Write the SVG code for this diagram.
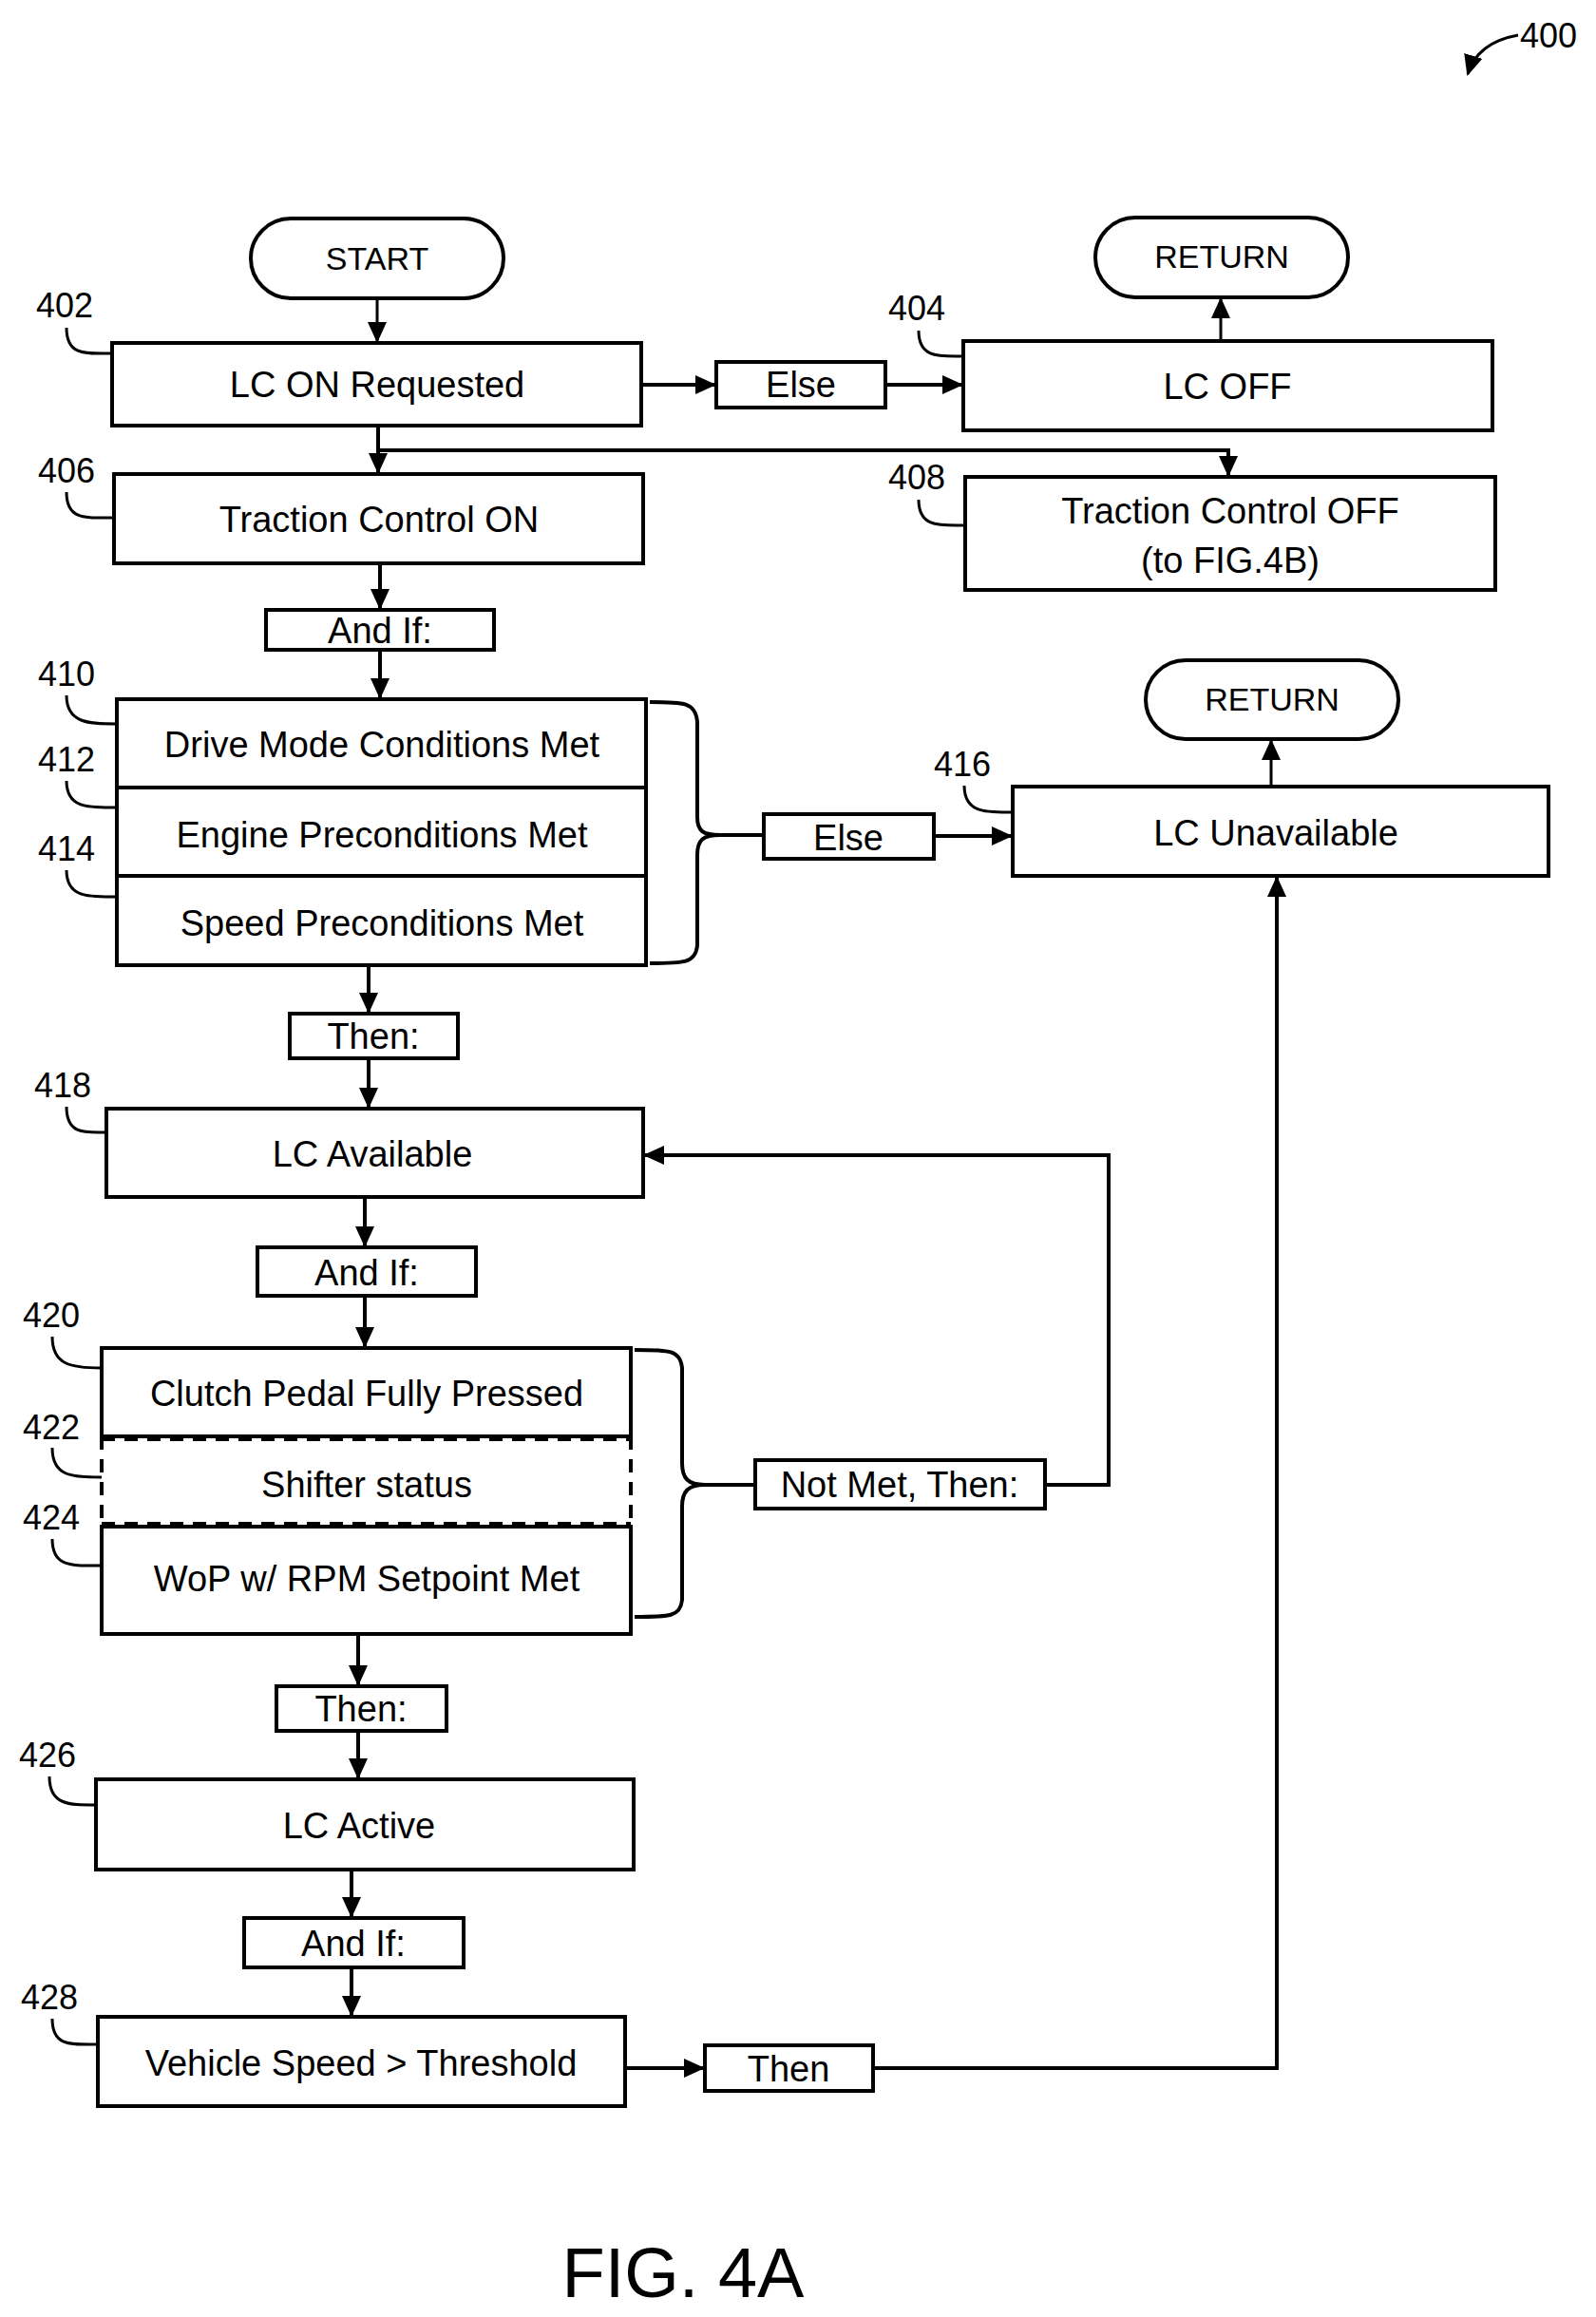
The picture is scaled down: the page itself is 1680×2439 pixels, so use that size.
<svg xmlns="http://www.w3.org/2000/svg" width="1680" height="2439" viewBox="0 0 1680 2439">
<style>
.b{fill:#fff;stroke:#000;stroke-width:4}
.t{font-family:"Liberation Sans",Arial,sans-serif;font-size:38px;text-anchor:middle;fill:#000}
.s{font-family:"Liberation Sans",Arial,sans-serif;font-size:34px;text-anchor:middle;fill:#000}
.n{font-family:"Liberation Sans",Arial,sans-serif;font-size:36px;fill:#000}
.l{fill:none;stroke:#000;stroke-width:4}
.ld{fill:none;stroke:#000;stroke-width:3}
</style>
<defs>
<marker id="a" markerWidth="10" markerHeight="10" refX="9" refY="5" orient="auto" markerUnits="userSpaceOnUse" viewBox="0 0 10 10"><path d="M0,0 L10,5 L0,10 z"/></marker>
<marker id="A" markerWidth="22" markerHeight="22" refX="20" refY="11" orient="auto" markerUnits="userSpaceOnUse" viewBox="0 0 22 22"><path d="M0,1 L22,11 L0,21 z"/></marker>
</defs>
<g id="connectors">
<path class="ld" d="M397,314 V359" marker-end="url(#A)"/>
<path class="l" d="M675,405 H752" marker-end="url(#A)"/>
<path class="l" d="M932,405 H1012" marker-end="url(#A)"/>
<path class="ld" d="M1285,359 V315" marker-end="url(#A)"/>
<path class="l" d="M398,448 V497" marker-end="url(#A)"/>
<path class="l" d="M398,474 H1293 V500" marker-end="url(#A)"/>
<path class="l" d="M400,593 V640" marker-end="url(#A)"/>
<path class="l" d="M400,684 V734" marker-end="url(#A)"/>
<path class="l" d="M684,739 C720,739 732,739 734,760 V860 C734,875 740,879 758,879 H802" />
<path class="l" d="M684,1014 C720,1014 732,1014 734,995 V900 C734,884 740,879 758,879" />
<path class="l" d="M983,880 H1064" marker-end="url(#A)"/>
<path class="ld" d="M1338,828 V780" marker-end="url(#A)"/>
<path class="l" d="M388,1016 V1065" marker-end="url(#A)"/>
<path class="l" d="M388,1114 V1165" marker-end="url(#A)"/>
<path class="l" d="M384,1260 V1311" marker-end="url(#A)"/>
<path class="l" d="M384,1364 V1417" marker-end="url(#A)"/>
<path class="l" d="M668,1421 C705,1421 716,1421 718,1440 V1540 C718,1556 724,1563 742,1563 H795" />
<path class="l" d="M668,1702 C705,1702 716,1702 718,1684 V1586 C718,1570 724,1563 742,1563" />
<path class="l" d="M1100,1563 H1167 V1216 H679" marker-end="url(#A)"/>
<path class="l" d="M377,1720 V1773" marker-end="url(#A)"/>
<path class="l" d="M377,1822 V1871" marker-end="url(#A)"/>
<path class="l" d="M370,1968 V2017" marker-end="url(#A)"/>
<path class="l" d="M370,2071 V2121" marker-end="url(#A)"/>
<path class="l" d="M658,2177 H740" marker-end="url(#A)"/>
<path class="l" d="M919,2177 H1344 V924" marker-end="url(#A)"/>
<path class="ld" d="M1598,37 C1570,42 1552,55 1545,78" marker-end="url(#A)"/>
</g>
<g id="start"><rect class="b" x="264" y="230" width="266" height="84" rx="42"/><text class="s" x="397" y="284">START</text></g>
<g id="return1"><rect class="b" x="1153" y="229" width="266" height="84" rx="42"/><text class="s" x="1286" y="282">RETURN</text></g>
<g id="return2"><rect class="b" x="1206" y="695" width="266" height="83" rx="42"/><text class="s" x="1339" y="748">RETURN</text></g>
<g id="n402"><rect class="b" x="118" y="361" width="557" height="87"/><text class="t" x="397" y="418">LC ON Requested</text></g>
<g id="else1"><rect class="b" x="754" y="381" width="178" height="48"/><text class="t" x="843" y="418">Else</text></g>
<g id="n404"><rect class="b" x="1014" y="359" width="557" height="94"/><text class="t" x="1292" y="420">LC OFF</text></g>
<g id="n406"><rect class="b" x="120" y="499" width="557" height="94"/><text class="t" x="399" y="560">Traction Control ON</text></g>
<g id="n408"><rect class="b" x="1016" y="502" width="558" height="119"/><text class="t" x="1295" y="551">Traction Control OFF</text><text class="t" x="1295" y="603">(to FIG.4B)</text></g>
<g id="andif1"><rect class="b" x="280" y="642" width="240" height="42"/><text class="t" x="400" y="677">And If:</text></g>
<g id="n410"><rect class="b" x="123" y="736" width="557" height="280"/><line class="l" x1="123" y1="829" x2="680" y2="829"/><line class="l" x1="123" y1="922" x2="680" y2="922"/>
<text class="t" x="402" y="797">Drive Mode Conditions Met</text><text class="t" x="402" y="892">Engine Preconditions Met</text><text class="t" x="402" y="985">Speed Preconditions Met</text></g>
<g id="else2"><rect class="b" x="804" y="857" width="179" height="47"/><text class="t" x="893" y="895">Else</text></g>
<g id="n416"><rect class="b" x="1066" y="828" width="564" height="94"/><text class="t" x="1343" y="890">LC Unavailable</text></g>
<g id="then1"><rect class="b" x="305" y="1067" width="177" height="47"/><text class="t" x="393" y="1104">Then:</text></g>
<g id="n418"><rect class="b" x="112" y="1167" width="565" height="93"/><text class="t" x="392" y="1228">LC Available</text></g>
<g id="andif2"><rect class="b" x="271" y="1313" width="230" height="51"/><text class="t" x="386" y="1353">And If:</text></g>
<g id="n420"><rect fill="#fff" x="107" y="1419" width="557" height="301"/>
<path class="l" d="M107,1512 V1419 H664 V1512 H107"/><path class="l" d="M107,1607 H664 V1720 H107 Z"/>
<path class="l" stroke-dasharray="14,10" d="M107,1512 V1607 M664,1512 V1607 M107,1515 H664 M107,1604 H664"/>
<text class="t" x="386" y="1480">Clutch Pedal Fully Pressed</text><text class="t" x="386" y="1576">Shifter status</text><text class="t" x="386" y="1675">WoP w/ RPM Setpoint Met</text></g>
<g id="notmet"><rect class="b" x="795" y="1537" width="305" height="51"/><text class="t" x="947" y="1576">Not Met, Then:</text></g>
<g id="then2"><rect class="b" x="291" y="1775" width="179" height="47"/><text class="t" x="380" y="1812">Then:</text></g>
<g id="n426"><rect class="b" x="101" y="1873" width="566" height="95"/><text class="t" x="378" y="1935">LC Active</text></g>
<g id="andif3"><rect class="b" x="257" y="2019" width="231" height="52"/><text class="t" x="372" y="2059">And If:</text></g>
<g id="n428"><rect class="b" x="103" y="2123" width="555" height="94"/><text class="t" x="380" y="2185">Vehicle Speed &gt; Threshold</text></g>
<g id="then3"><rect class="b" x="742" y="2153" width="177" height="48"/><text class="t" x="830" y="2191">Then</text></g>
<g id="labels">
<text class="n" x="38" y="334">402</text><path class="ld" d="M70,345 C70,375 90,372 118,372"/>
<text class="n" x="935" y="337">404</text><path class="ld" d="M967,348 C967,378 990,375 1014,375"/>
<text class="n" x="40" y="508">406</text><path class="ld" d="M70,518 C70,548 90,545 120,545"/>
<text class="n" x="935" y="515">408</text><path class="ld" d="M967,526 C967,556 990,553 1016,553"/>
<text class="n" x="40" y="722">410</text><path class="ld" d="M70,732 C70,762 95,762 123,762"/>
<text class="n" x="40" y="812">412</text><path class="ld" d="M70,822 C70,852 95,850 123,850"/>
<text class="n" x="40" y="906">414</text><path class="ld" d="M70,916 C70,946 95,944 123,944"/>
<text class="n" x="983" y="817">416</text><path class="ld" d="M1015,827 C1015,857 1040,855 1066,855"/>
<text class="n" x="36" y="1155">418</text><path class="ld" d="M70,1165 C70,1195 90,1192 112,1192"/>
<text class="n" x="24" y="1397">420</text><path class="ld" d="M55,1407 C55,1437 75,1440 107,1440"/>
<text class="n" x="24" y="1515">422</text><path class="ld" d="M55,1524 C55,1554 75,1555 107,1555"/>
<text class="n" x="24" y="1610">424</text><path class="ld" d="M55,1620 C55,1650 75,1648 107,1648"/>
<text class="n" x="20" y="1860">426</text><path class="ld" d="M52,1870 C52,1900 72,1900 101,1900"/>
<text class="n" x="22" y="2115">428</text><path class="ld" d="M55,2125 C55,2155 75,2152 103,2152"/>
<text class="n" x="1600" y="50">400</text>
<text x="719" y="2418" style="font-family:'Liberation Sans',Arial,sans-serif;font-size:74px;text-anchor:middle">FIG. 4A</text>
</g>
</svg>
